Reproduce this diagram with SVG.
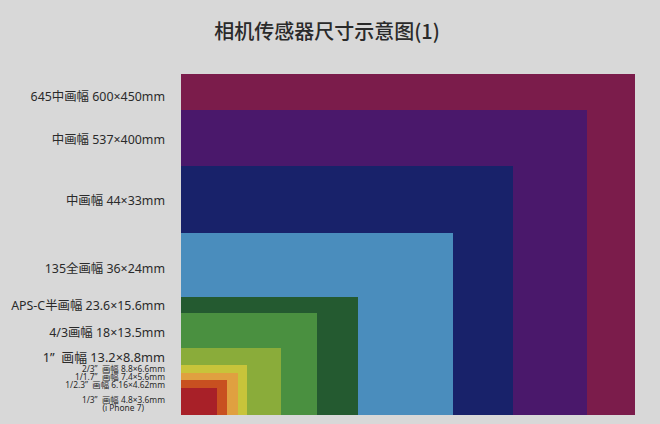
<svg xmlns="http://www.w3.org/2000/svg" width="660" height="424" viewBox="0 0 660 424">
<style>
.t{font-family:"Noto Sans","Noto Sans CJK SC",sans-serif;fill:#2a2a2a;text-anchor:end;dominant-baseline:central;white-space:pre}
.l{font-size:12.4px}
.s{font-size:8.4px}
</style>
<rect width="660" height="424" fill="#d8d8d8"/>
<text x="327" y="30" font-family="'Noto Sans CJK SC','Noto Sans',sans-serif" font-size="20" font-weight="500" fill="#2a2a2a" text-anchor="middle" dominant-baseline="central">相机传感器尺寸示意图(1)</text>
<g id="s645"><rect x="181" y="74" width="454" height="341" fill="#7b1c4b"/><text class="t l" x="165" y="96">645中画幅 600×450mm</text></g>
<g id="s537"><rect x="181" y="110" width="406" height="305" fill="#4a186b"/><text class="t l" x="165" y="139">中画幅 537×400mm</text></g>
<g id="s44"><rect x="181" y="166" width="332" height="249" fill="#18226a"/><text class="t l" x="165" y="200">中画幅 44×33mm</text></g>
<g id="s135"><rect x="181" y="233" width="272" height="182" fill="#4a8dbd"/><text class="t l" x="165" y="268">135全画幅 36×24mm</text></g>
<g id="sapsc"><rect x="181" y="297" width="177" height="118" fill="#245a30"/><text class="t l" x="165" y="305">APS-C半画幅 23.6×15.6mm</text></g>
<g id="s43"><rect x="181" y="313" width="136" height="102" fill="#4a9040"/><text class="t l" x="165" y="332">4/3画幅 18×13.5mm</text></g>
<g id="s1in"><rect x="181" y="348" width="100" height="67" fill="#8aac3a"/><text class="t" font-size="12.8" x="165" y="357">1”  画幅 13.2×8.8mm</text></g>
<g id="s23"><rect x="181" y="365" width="66" height="50" fill="#c8c43a"/><text class="t s" x="165" y="368.5">2/3”  画幅 8.8×6.6mm</text></g>
<g id="s117"><rect x="181" y="373" width="57" height="42" fill="#e0a040"/><text class="t s" x="165" y="376.5">1/1.7”  画幅 7.4×5.6mm</text></g>
<g id="s123"><rect x="181" y="380" width="46" height="35" fill="#c85020"/><text class="t s" x="165" y="384">1/2.3”  画幅 6.16×4.62mm</text></g>
<g id="s13"><rect x="181" y="388" width="36" height="27" fill="#a82028"/><text class="t s" x="165" y="399">1/3”  画幅 4.8×3.6mm</text><text class="t s" x="144" y="407">(i Phone 7)</text></g>
<g id="connectors"/>
</svg>
